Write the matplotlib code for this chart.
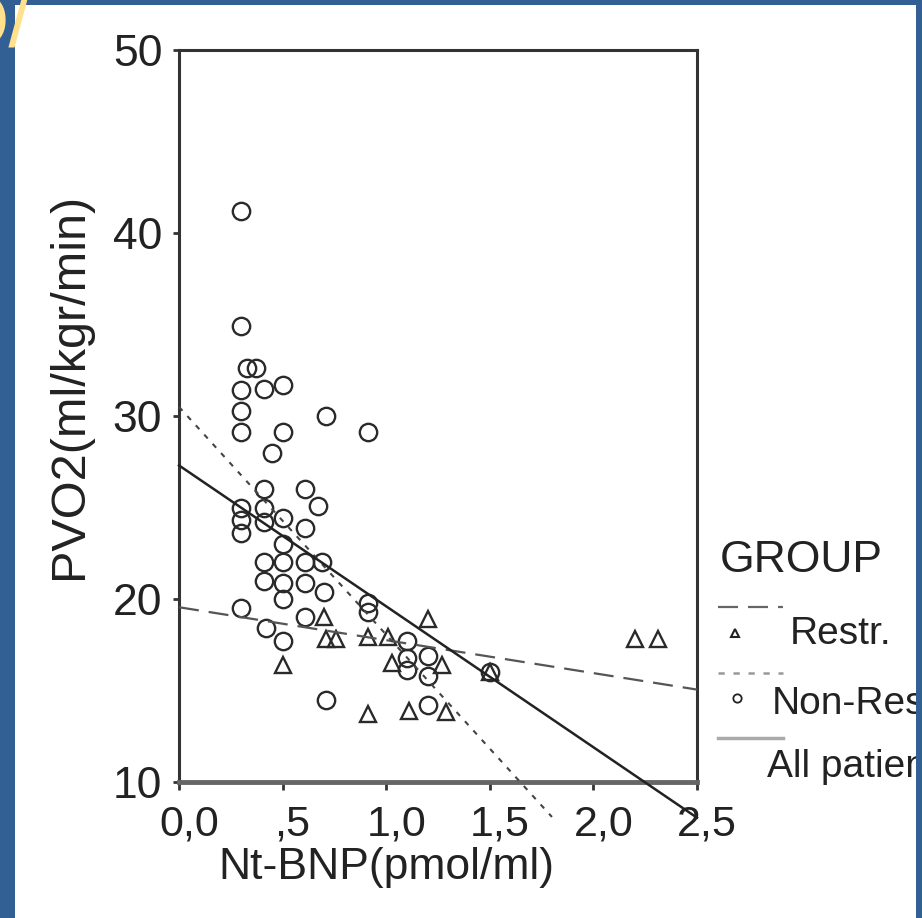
import matplotlib
matplotlib.use("Agg")
import matplotlib.pyplot as plt
from matplotlib.lines import Line2D
from matplotlib.patches import Rectangle
from matplotlib.transforms import ScaledTranslation
import numpy as np

plt.rcParams["font.family"] = ["Liberation Sans", "DejaVu Sans"]

# Non-Restr. patients (circles)
nonres_x = [0.30, 0.30, 0.33, 0.37, 0.30, 0.41, 0.50, 0.30, 0.71, 0.30,
            0.50, 0.91, 0.45, 0.61, 0.41, 0.67, 0.41, 0.30, 0.30, 0.30,
            0.50, 0.61, 0.41, 0.50, 0.41, 0.50, 0.61, 0.41, 0.50, 0.61,
            0.70, 0.50, 0.69, 0.30, 0.42, 0.50, 0.61, 0.91, 0.91, 0.71,
            1.10, 1.10, 1.10, 1.20, 1.20, 1.20, 1.50]
nonres_y = [41.2, 34.9, 32.6, 32.6, 31.4, 31.5, 31.7, 30.3, 30.0, 29.1,
            29.1, 29.1, 28.0, 26.0, 26.0, 25.1, 25.0, 25.0, 24.3, 23.6,
            24.4, 23.9, 24.2, 23.0, 22.0, 22.0, 22.0, 21.0, 20.9, 20.9,
            20.4, 20.0, 22.0, 19.5, 18.4, 17.7, 19.0, 19.8, 19.3, 14.5,
            17.7, 16.8, 16.1, 16.9, 15.8, 14.2, 16.0]

# Restr. patients (triangles)
restr_x = [0.50, 0.70, 0.71, 0.76, 0.91, 0.91, 1.01, 1.20, 1.03, 1.27,
           1.50, 1.11, 1.29, 2.20, 2.31]
restr_y = [16.4, 19.0, 17.8, 17.8, 17.9, 13.7, 17.9, 18.9, 16.5, 16.4,
           16.0, 13.9, 13.8, 17.8, 17.8]

# fit lines: (intercept, slope, x from, x to)
fit_restr = (19.55, -1.80, 0.0, 2.5)
fit_nonres = (30.5, -12.45, 0.0, 1.8)
fit_all = (27.3, -7.70, 0.0, 2.5)

x_ticks = [0.0, 0.5, 1.0, 1.5, 2.0, 2.5]
x_ticklabels = ["0,0", ",5", "1,0", "1,5", "2,0", "2,5"]
y_ticks = [10, 20, 30, 40, 50]

BLUE = "#336094"
INK = "#222222"
W, H = 922, 918

fig = plt.figure(figsize=(W / 100, H / 100), dpi=100)
fig.patch.set_facecolor(BLUE)
fig.add_artist(Rectangle((15 / W, 0), 901 / W, 913 / H, transform=fig.transFigure,
                         facecolor="white", edgecolor="none", zorder=0))

ax = fig.add_axes([179 / W, 136 / H, 518 / W, 732 / H])
ax.set_facecolor("white")
ax.set_xlim(0, 2.5)
ax.set_ylim(10, 50)

ax.plot(nonres_x, nonres_y, linestyle="none", marker="o", markersize=12.5,
        markerfacecolor="none", markeredgecolor="#2a2a2a", markeredgewidth=1.7, zorder=3)
ax.plot(restr_x, restr_y, linestyle="none", marker="^", markersize=12,
        markerfacecolor="none", markeredgecolor="#2a2a2a", markeredgewidth=1.7, zorder=3)


def fit_line(fit, **kw):
    b0, b1, x0, x1 = fit
    xs = np.array([x0, x1])
    ax.plot(xs, b0 + b1 * xs, clip_on=False, zorder=4, **kw)


fit_line(fit_restr, color="#555555", linewidth=1.6, dashes=(9, 4.5))
fit_line(fit_nonres, color="#444444", linewidth=1.5, dashes=(2.5, 3.5))
fit_line(fit_all, color="#222222", linewidth=1.8)

for side in ["left", "top", "right"]:
    ax.spines[side].set_color("#333333")
    ax.spines[side].set_linewidth(2.2)
ax.spines["bottom"].set_color("#666666")
ax.spines["bottom"].set_linewidth(3.5)

ax.set_yticks(y_ticks)
ax.set_yticklabels([str(v) for v in y_ticks])
ax.set_xticks(x_ticks)
ax.set_xticklabels(x_ticklabels)
ax.tick_params(axis="y", direction="out", length=4, width=2, color="#333333",
               pad=8, labelsize=32, labelcolor=INK)
ax.tick_params(axis="x", direction="out", length=6, width=2, color="#333333",
               pad=10, labelsize=31, labelcolor=INK)
shift = ScaledTranslation(10 / 100, 0, fig.dpi_scale_trans)
for lab in ax.get_xticklabels():
    lab.set_transform(lab.get_transform() + shift)

fig.text(70 / W, 1 - 386 / H, "PVO2(ml/kgr/min)", rotation=90, ha="center",
         va="center", fontsize=35, color=INK)
fig.text(386 / W, 1 - 868 / H, "Nt-BNP(pmol/ml)", ha="center", va="center",
         fontsize=32, color=INK)


# legend, drawn by hand in figure pixels
def fx(px):
    return px / W


def fy(py):
    return 1 - py / H


fig.text(fx(720), fy(561), "GROUP", ha="left", va="center", fontsize=32, color=INK)
fig.add_artist(Line2D([fx(718), fx(783)], [fy(607), fy(607)], transform=fig.transFigure,
                      color="#666666", linewidth=1.6, dashes=(9, 4.5)))
fig.add_artist(Line2D([fx(735)], [fy(633)], transform=fig.transFigure, marker="^",
                      markersize=6, markerfacecolor="none", markeredgecolor=INK,
                      markeredgewidth=1.5, linestyle="none"))
fig.text(fx(790), fy(634), "Restr.", ha="left", va="center", fontsize=28, color=INK)
fig.add_artist(Line2D([fx(718), fx(783)], [fy(673), fy(673)], transform=fig.transFigure,
                      color="#999999", linewidth=1.8, dashes=(2.5, 3.5)))
fig.add_artist(Line2D([fx(737)], [fy(698)], transform=fig.transFigure, marker="o",
                      markersize=6, markerfacecolor="none", markeredgecolor=INK,
                      markeredgewidth=1.3, linestyle="none"))
fig.text(fx(772), fy(704), "Non-Restr.", ha="left", va="center", fontsize=28, color=INK)
fig.add_artist(Line2D([fx(718), fx(783)], [fy(738), fy(738)], transform=fig.transFigure,
                      color="#aaaaaa", linewidth=2.5))
fig.text(fx(767), fy(767), "All patients", ha="left", va="center", fontsize=28, color=INK)

# blue frame on the right covers the overflowing legend text, as in the slide
fig.add_artist(Rectangle((916 / W, 0), 6 / W, 1, transform=fig.transFigure,
                         facecolor=BLUE, edgecolor="none", zorder=20))

# piece of the slide title peeking in at the top-left corner
fig.text(-52 / W, 1 - 47 / H, "Q/", ha="left", va="baseline", fontsize=56,
         color="#FFE08C", zorder=30)

fig.savefig("out.png", dpi=100, facecolor=fig.get_facecolor())
